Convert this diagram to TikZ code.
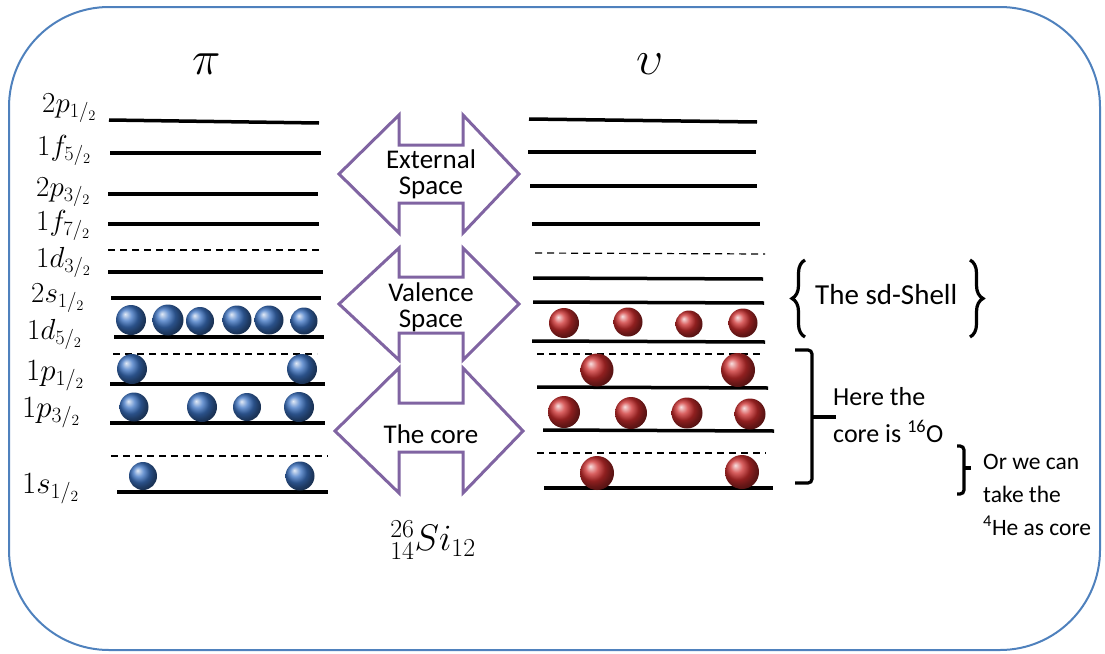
\RequirePackage{fix-cm}
\documentclass[tikz,border=0pt]{standalone}
\usepackage{fontspec}
\newfontfamily\calibri{Carlito}
\usetikzlibrary{decorations.pathreplacing}
\definecolor{framecolor}{RGB}{79,129,189}
\definecolor{arrowcolor}{RGB}{128,100,162}
\definecolor{protoncolor}{RGB}{60,115,195}
\definecolor{neutroncolor}{RGB}{205,45,45}
\tikzstyle{frame} = [draw=framecolor, line width=2pt, rounded corners=100pt]
\tikzstyle{shellline} = [line width=3.5pt]
\tikzstyle{gapline} = [line width=1.2pt, dash pattern=on 7pt off 5pt]
\tikzstyle{protonball} = [circle, inner sep=0pt, ball color=protoncolor]
\tikzstyle{neutronball} = [circle, inner sep=0pt, ball color=neutroncolor]
\tikzstyle{orbital} = [anchor=base west, inner sep=0pt,
                       font=\fontsize{29}{32}\selectfont]
\tikzstyle{spacearrow} = [draw=arrowcolor, line width=3pt, fill=white]
\tikzstyle{spacelabel} = [align=center, inner sep=0pt,
                          font=\calibri\fontsize{27}{26}\selectfont]
\tikzstyle{note} = [align=left, inner sep=0pt, anchor=base west]
\tikzstyle{curly} = [line width=3.2pt, decorate,
                     decoration={brace, amplitude=13pt}]
\tikzstyle{bracket} = [line width=3.2pt, rounded corners=4pt]
\newcommand{\orb}[3]{$#1_{#2/_{#3}}$}

\begin{document}
\begin{tikzpicture}[x=1pt, y=-1pt]
    \useasboundingbox (0,0) rectangle (1105,653);
    \draw[frame] (9,7) rectangle (1100,650);

    % proton and neutron columns
    \node (pi) at (207,64) {\fontsize{48}{52}\selectfont$\pi$};
    \node (nu) at (650,64) {\fontsize{48}{52}\selectfont$\upsilon$};

    \node (l2p1) [orbital] at (42,112) {\orb{2p}{1}{2}};
    \node (l1f5) [orbital] at (37,155) {\orb{1f}{5}{2}};
    \node (l2p3) [orbital] at (36,196) {\orb{2p}{3}{2}};
    \node (l1f7) [orbital] at (36,230) {\orb{1f}{7}{2}};
    \node (l1d3) [orbital] at (36,267) {\orb{1d}{3}{2}};
    \node (l2s1) [orbital] at (31,302) {\orb{2s}{1}{2}};
    \node (l1d5) [orbital] at (27,339) {\orb{1d}{5}{2}};
    \node (l1p1) [orbital, font=\fontsize{31}{34}\selectfont] at (26,380) {\orb{1p}{1}{2}};
    \node (l1p3) [orbital, font=\fontsize{31}{34}\selectfont] at (22,417) {\orb{1p}{3}{2}};
    \node (l1s1) [orbital, font=\fontsize{31}{34}\selectfont] at (22,493) {\orb{1s}{1}{2}};

    % proton levels
    \draw[shellline] (109,120) -- (319,123);
    \draw[shellline] (110,153) -- (321,153);
    \draw[shellline] (108,194) -- (318,194);
    \draw[shellline] (108,224) -- (319,224);
    \draw[gapline] (108,250) -- (322,250);
    \draw[shellline] (108,272) -- (323,272);
    \draw[shellline] (111,298) -- (321,298);
    \draw[shellline] (114,337) -- (324,337);
    \draw[gapline] (113,354) -- (317,354);
    \draw[shellline] (110,384) -- (325,384);
    \draw[shellline] (110,423) -- (325,423);
    \draw[gapline] (111,456) -- (328,456);
    \draw[shellline] (117,492) -- (328,492);

    % neutron levels
    \draw[shellline] (529,119) -- (757,122);
    \draw[shellline] (528,152) -- (756,152);
    \draw[shellline] (530,186) -- (757,186);
    \draw[shellline] (532,224) -- (760,224);
    \draw[gapline] (535,253) -- (765,254);
    \draw[shellline] (533,278) -- (763,279);
    \draw[shellline] (533,302) -- (764,303);
    \draw[shellline] (532,341) -- (765,342);
    \draw[gapline] (537,354) -- (762,354);
    \draw[shellline] (537,387) -- (768,388);
    \draw[shellline] (543,430) -- (774,431);
    \draw[gapline] (537,453) -- (766,453);
    \draw[shellline] (544,488) -- (773,488);

    % protons
    \node (pd1) [protonball, minimum size=30pt] at (131,320) {};
    \node (pd2) [protonball, minimum size=31pt] at (168,320) {};
    \node (pd3) [protonball, minimum size=28pt] at (200,321) {};
    \node (pd4) [protonball, minimum size=29pt] at (237,320) {};
    \node (pd5) [protonball, minimum size=29pt] at (269,320) {};
    \node (pd6) [protonball, minimum size=27pt] at (304,321) {};
    \node (pp1) [protonball, minimum size=30pt] at (132,369) {};
    \node (pp2) [protonball, minimum size=30pt] at (302,369) {};
    \node (pq1) [protonball, minimum size=29pt] at (134,407) {};
    \node (pq2) [protonball, minimum size=30pt] at (202,407) {};
    \node (pq3) [protonball, minimum size=28pt] at (247,407) {};
    \node (pq4) [protonball, minimum size=30pt] at (299,407) {};
    \node (ps1) [protonball, minimum size=28pt] at (143,476) {};
    \node (ps2) [protonball, minimum size=29pt] at (300,476) {};

    % neutrons
    \node (nd1) [neutronball, minimum size=30pt] at (564,323) {};
    \node (nd2) [neutronball, minimum size=29pt] at (628,322) {};
    \node (nd3) [neutronball, minimum size=27pt] at (689,324) {};
    \node (nd4) [neutronball, minimum size=29pt] at (743,323) {};
    \node (np1) [neutronball, minimum size=33pt] at (597,370) {};
    \node (np2) [neutronball, minimum size=34pt] at (738,370) {};
    \node (nq1) [neutronball, minimum size=32pt] at (564,412) {};
    \node (nq2) [neutronball, minimum size=32pt] at (631,413) {};
    \node (nq3) [neutronball, minimum size=31pt] at (687,413) {};
    \node (nq4) [neutronball, minimum size=31pt] at (750,414) {};
    \node (ns1) [neutronball, minimum size=34pt] at (597,473) {};
    \node (ns2) [neutronball, minimum size=34pt] at (742,472) {};

    % the three spaces
    \draw[spacearrow] (339,174) -- (399,115) -- (399,145) -- (463,145)
        -- (463,115) -- (519,174) -- (463,233) -- (463,203) -- (399,203)
        -- (399,233) -- cycle;
    \draw[spacearrow] (339,304) -- (399,248) -- (399,277) -- (463,277)
        -- (463,248) -- (519,304) -- (463,360) -- (463,333) -- (399,333)
        -- (399,360) -- cycle;
    \draw[spacearrow] (335,431) -- (399,368) -- (399,403) -- (463,403)
        -- (463,368) -- (523,431) -- (463,493) -- (463,452) -- (399,452)
        -- (399,493) -- cycle;
    \node (external) [spacelabel] at (431,174) {External\\Space};
    \node (valence) [spacelabel] at (431,307) {Valence\\Space};
    \node (core) [spacelabel] at (431,434) {The core};

    \node (silicon) at (433,540) {\fontsize{37}{42}\selectfont$^{26}_{14}Si_{12}$};

    % braces on the right
    \draw[curly] (805,337) -- (805,260);
    \draw[curly] (970,260) -- (970,337);
    \node (sdshell) [note, font=\calibri\fontsize{29}{34}\selectfont]
        at (815,304) {The sd-Shell};

    \draw[bracket] (795,350) -| (812,483) -- (795,483);
    \draw[bracket] (812,417) -- (836,417);
    \node (oxygen) [note, font=\calibri\fontsize{26}{37}\selectfont]
        at (833,442) {Here the\\core is \textsuperscript{16}O};

    \draw[bracket] (957,446) -| (964,494) -- (957,494);
    \draw[bracket] (964,468) -- (971,468);
    \node (helium) [note, font=\calibri\fontsize{23.5}{33}\selectfont]
        at (983,535) {Or we can\\take the\\\textsuperscript{4}He as core};
\end{tikzpicture}
\end{document}
